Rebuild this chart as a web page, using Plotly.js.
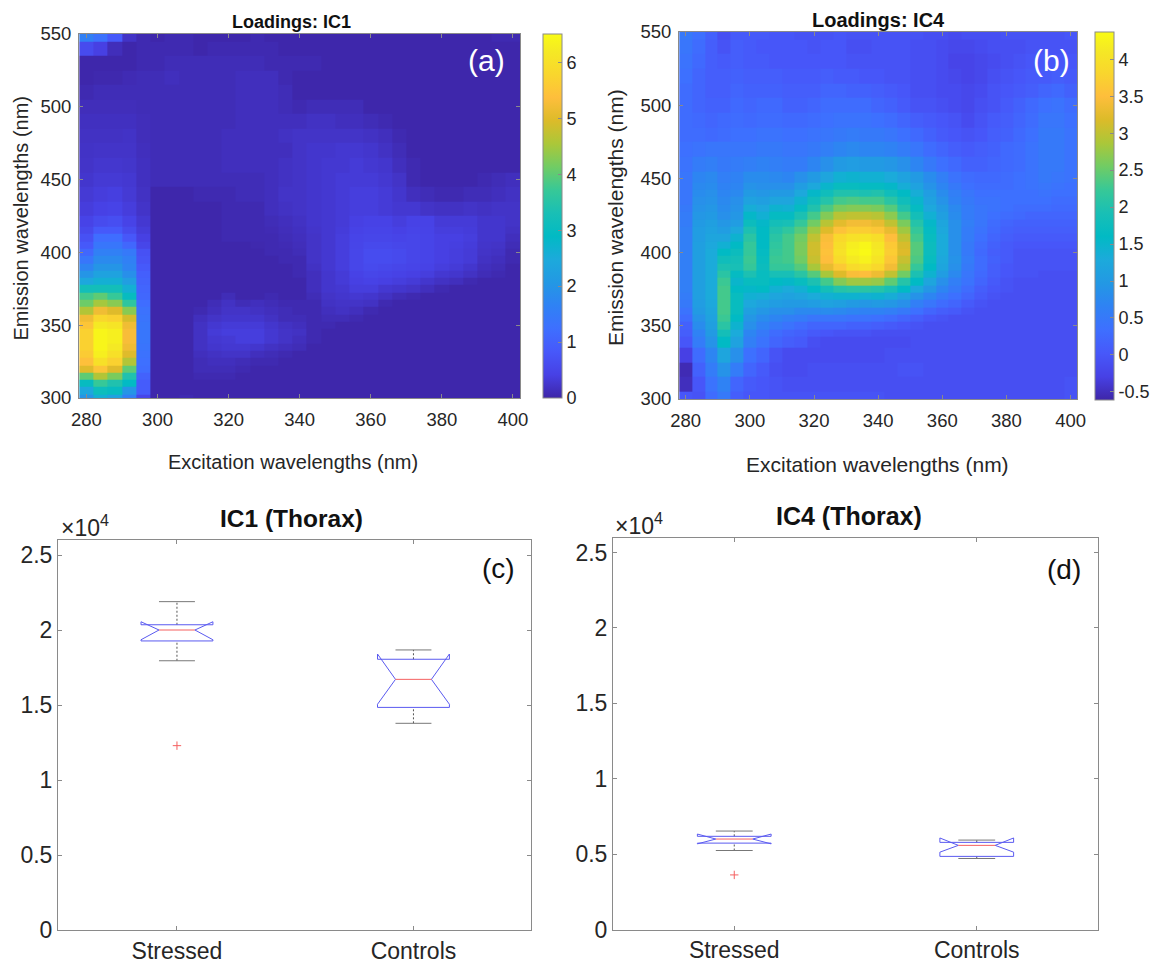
<!DOCTYPE html>
<html><head><meta charset="utf-8">
<script src="https://cdn.plot.ly/plotly-3.0.1.min.js"></script>
<style>html,body{margin:0;padding:0;background:#fff}</style></head>
<body><div id="chart" style="width:1153px;height:960px"></div>
<script>
const excitation=[280,284,288,292,296,300,304,308,312,316,320,324,328,332,336,340,344,348,352,356,360,364,368,372,376,380,384,388,392,396,400];
const emissionIC1=[300,305,310,315,320,325,330,335,340,345,350,355,360,365,370,375,380,385,390,395,400,405,410,415,420,430,440,450,460,470,480,490,500,510,520,530,540,550];
const loadingsIC1=[
[2.0,2.6,2.3,1.6,.5,.02,.02,.06,.02,.02,.02,.02,.02,.02,.02,.02,.02,.02,.02,.02,.02,.02,.02,.02,.02,.02,.02,.02,.02,.02,.02],
[2.4,3.1,3.0,2.0,.9,.02,.02,.02,.02,.02,.02,.02,.02,.02,.02,.02,.02,.02,.02,.02,.02,.02,.02,.02,.02,.02,.02,.02,.02,.02,.02],
[3.0,3.7,3.4,2.9,.9,.02,.02,.02,.02,.02,.02,.02,.02,.02,.02,.02,.02,.02,.02,.02,.02,.02,.02,.02,.02,.02,.02,.02,.02,.02,.02],
[4.0,4.6,4.2,3.4,1.0,.02,.02,.02,.06,.06,.06,.02,.02,.02,.02,.02,.02,.02,.02,.02,.02,.02,.02,.02,.02,.02,.02,.02,.02,.02,.02],
[5.0,5.5,5.0,4.0,1.2,.02,.02,.02,.1,.1,.1,.06,.02,.02,.02,.02,.02,.02,.02,.02,.02,.02,.02,.02,.02,.02,.02,.02,.02,.02,.02],
[5.4,6.0,5.7,4.6,1.25,.02,.02,.02,.1,.14,.14,.1,.06,.06,.02,.02,.02,.02,.02,.02,.02,.02,.02,.02,.02,.02,.02,.02,.02,.02,.02],
[5.6,6.3,6.0,5.0,1.3,.02,.02,.02,.14,.18,.21,.21,.14,.1,.06,.02,.02,.02,.02,.02,.02,.02,.02,.02,.02,.02,.02,.02,.02,.02,.02],
[5.7,6.4,6.2,5.2,1.35,.02,.02,.02,.18,.25,.28,.28,.25,.18,.14,.1,.02,.02,.02,.02,.02,.02,.02,.02,.02,.02,.02,.02,.02,.02,.02],
[5.7,6.4,6.3,5.3,1.4,.02,.02,.02,.18,.28,.3,.36,.36,.28,.21,.14,.06,.02,.02,.02,.02,.02,.02,.02,.02,.02,.02,.02,.02,.02,.02],
[5.7,6.4,6.3,5.3,1.4,.02,.02,.02,.18,.32,.36,.36,.36,.28,.21,.18,.06,.02,.02,.02,.02,.02,.02,.02,.02,.02,.02,.02,.02,.02,.02],
[5.5,6.2,6.1,5.2,1.4,.02,.02,.02,.18,.28,.32,.32,.32,.25,.18,.14,.06,.06,.02,.02,.02,.02,.02,.02,.02,.02,.02,.02,.02,.02,.02],
[5.2,5.8,5.7,4.9,1.35,.02,.02,.02,.14,.21,.25,.25,.25,.18,.1,.1,.06,.1,.1,.06,.02,.02,.02,.02,.02,.02,.02,.02,.02,.02,.02],
[4.6,5.2,5.0,4.3,1.3,.02,.02,.02,.06,.14,.21,.21,.18,.14,.1,.06,.06,.14,.18,.14,.06,.02,.02,.02,.02,.02,.02,.02,.02,.02,.02],
[4.1,4.5,4.3,3.6,1.2,.02,.02,.02,.02,.1,.18,.1,.14,.1,.06,.06,.06,.18,.21,.21,.18,.06,.02,.02,.02,.02,.02,.02,.02,.02,.02],
[3.8,4.0,3.7,3.0,1.1,.02,.02,.02,.02,.02,.1,.02,.02,.06,.02,.02,.1,.21,.25,.28,.25,.18,.1,.06,.02,.02,.02,.02,.02,.02,.02],
[3.2,3.2,3.2,2.6,1.05,.02,.02,.02,.02,.02,.02,.02,.02,.02,.02,.02,.14,.25,.28,.36,.36,.28,.25,.21,.14,.06,.02,.02,.02,.02,.02],
[2.4,2.6,2.6,2.2,1.0,.02,.02,.02,.02,.02,.02,.02,.02,.02,.02,.02,.14,.25,.32,.4,.44,.4,.36,.32,.25,.18,.14,.06,.02,.02,.02],
[2.0,2.3,2.3,1.9,.95,.02,.02,.02,.02,.02,.02,.02,.02,.02,.02,.06,.14,.25,.32,.44,.5,.47,.44,.4,.36,.28,.25,.18,.1,.06,.02],
[1.7,2.0,2.0,1.7,.85,.02,.02,.02,.02,.02,.02,.02,.02,.02,.02,.06,.18,.28,.36,.5,.58,.54,.5,.47,.44,.36,.32,.25,.14,.1,.02],
[1.4,1.8,1.8,1.6,.75,.02,.02,.02,.02,.02,.02,.02,.02,.02,.06,.06,.21,.28,.36,.5,.62,.62,.58,.5,.47,.4,.36,.32,.18,.14,.06],
[1.1,1.6,1.6,1.45,.7,.02,.02,.02,.02,.02,.02,.02,.02,.06,.06,.1,.21,.28,.36,.5,.62,.62,.58,.5,.47,.4,.36,.32,.21,.18,.06],
[.85,1.4,1.4,1.1,.5,.02,.02,.02,.02,.02,.02,.02,.04,.06,.08,.12,.21,.28,.36,.48,.56,.56,.52,.5,.47,.4,.38,.34,.23,.21,.1],
[.7,1.2,1.2,.8,.4,.02,.02,.02,.02,.02,.06,.06,.06,.06,.1,.14,.21,.28,.36,.47,.5,.5,.47,.5,.47,.4,.4,.36,.25,.25,.14],
[.55,.85,.85,.6,.33,.02,.02,.02,.02,.02,.06,.06,.06,.08,.12,.16,.23,.28,.34,.44,.47,.47,.42,.47,.45,.36,.36,.34,.25,.25,.18],
[.45,.6,.65,.45,.28,.02,.02,.02,.02,.02,.06,.06,.06,.1,.14,.18,.25,.28,.32,.4,.44,.44,.36,.44,.44,.32,.32,.32,.25,.25,.21],
[.35,.42,.45,.35,.22,.02,.02,.02,.02,.02,.06,.06,.06,.14,.18,.21,.25,.28,.32,.36,.36,.32,.28,.28,.21,.18,.18,.21,.18,.21,.21],
[.3,.35,.38,.3,.18,.02,.02,.02,.06,.06,.06,.1,.1,.14,.21,.21,.25,.28,.32,.36,.36,.32,.25,.14,.1,.06,.06,.1,.1,.14,.18],
[.25,.3,.3,.28,.16,.1,.1,.1,.1,.1,.1,.1,.1,.14,.18,.21,.25,.28,.32,.32,.32,.28,.21,.06,.02,.02,.02,.02,.06,.1,.14],
[.22,.26,.26,.24,.16,.1,.1,.1,.1,.1,.14,.14,.14,.14,.18,.21,.25,.28,.28,.32,.28,.25,.14,.06,.02,.02,.02,.02,.02,.02,.02],
[.2,.22,.22,.22,.14,.1,.1,.1,.1,.1,.14,.14,.14,.14,.14,.21,.25,.25,.28,.28,.25,.18,.1,.02,.02,.02,.02,.02,.02,.02,.02],
[.18,.18,.18,.2,.12,.1,.1,.1,.1,.1,.14,.14,.14,.14,.18,.21,.21,.21,.21,.21,.18,.14,.06,.02,.02,.02,.02,.02,.02,.02,.02],
[.16,.16,.16,.16,.12,.1,.1,.1,.1,.1,.1,.14,.14,.14,.14,.14,.18,.18,.14,.14,.1,.06,.02,.02,.02,.02,.02,.02,.02,.02,.02],
[.12,.12,.12,.12,.1,.1,.1,.1,.1,.1,.1,.14,.14,.14,.1,.06,.1,.1,.1,.1,.02,.02,.02,.02,.02,.02,.02,.02,.02,.02,.02],
[.06,.1,.1,.1,.1,.1,.1,.1,.1,.1,.1,.14,.14,.14,.1,.02,.02,.02,.02,.02,.02,.02,.02,.02,.02,.02,.02,.02,.02,.02,.02],
[.02,.04,.04,.08,.1,.1,.14,.1,.1,.1,.1,.14,.14,.14,.06,.02,.02,.02,.02,.02,.02,.02,.02,.02,.02,.02,.02,.02,.02,.02,.02],
[.02,.02,.02,.02,.06,.06,.1,.1,.1,.1,.1,.1,.1,.06,.06,.06,.06,.02,.02,.02,.02,.02,.02,.02,.02,.02,.02,.02,.02,.02,.02],
[.6,.4,.12,.02,.06,.06,.06,.06,.02,.06,.06,.06,.06,.06,.02,.02,.02,.02,.02,.02,.02,.02,.02,.02,.02,.02,.02,.02,.02,.02,.02],
[1.6,1.3,.85,.2,.06,.02,.06,.06,.02,.02,.02,.02,.06,.02,.02,.02,.02,.02,.02,.02,.02,.02,.02,.02,.02,.02,.02,.02,.02,.06,.06]
];
const emissionIC4=[300,310,320,330,340,345,350,355,360,365,370,375,380,385,390,395,400,405,410,415,420,425,430,435,440,445,450,460,470,480,490,500,510,520,530,540,550];
const loadingsIC4=[
[0,-.05,.3,.5,.1,0,0,-.05,-.05,-.05,-.05,-.05,-.05,-.05,-.05,-.05,-.1,-.1,-.1,-.1,-.1,-.1,-.1,-.1,-.1,-.1,-.1,-.1,-.1,-.1,-.05],
[-.5,0,.4,.65,.2,.05,0,-.05,-.1,-.1,-.1,-.1,-.1,-.1,-.1,-.1,-.1,-.1,-.1,-.1,-.1,-.1,-.1,-.1,-.1,-.1,-.1,-.1,-.1,-.1,-.05],
[-.55,.15,.55,.9,.55,.2,.05,-.1,-.15,-.15,-.1,-.1,-.1,-.1,-.1,-.1,-.1,-.05,-.05,-.1,-.1,-.1,-.1,-.1,-.1,-.1,-.1,-.1,-.1,-.1,-.1],
[-.3,.3,.7,1.2,.85,.35,.2,-.05,-.15,-.15,-.15,-.15,-.15,-.15,-.15,-.15,-.1,-.1,-.1,-.1,-.1,-.1,-.1,-.1,-.1,-.1,-.1,-.1,-.1,-.1,-.1],
[0,.55,.9,1.6,1.15,.6,.4,.2,.1,.05,-.1,-.15,-.15,-.15,-.15,-.15,-.15,-.15,-.1,-.1,-.1,-.1,-.1,-.1,-.1,-.1,-.1,-.1,-.1,-.1,-.1],
[.1,.65,1.0,1.85,1.3,.7,.5,.3,.2,.15,.05,0,-.05,-.05,-.05,-.1,-.1,-.1,-.1,-.1,-.1,-.1,-.1,-.1,-.1,-.1,-.1,-.1,-.1,-.1,-.1],
[.15,.8,1.1,2.1,1.45,.85,.65,.5,.4,.3,.2,.2,.2,.15,.15,.1,.05,0,-.05,-.1,-.1,-.1,-.1,-.1,-.1,-.1,-.1,-.1,-.1,-.1,-.1],
[.3,.9,1.15,2.25,1.6,.95,.8,.7,.6,.55,.45,.45,.45,.4,.4,.35,.3,.2,.1,0,-.05,-.1,-.1,-.1,-.1,-.1,-.1,-.1,-.1,-.1,-.1],
[.4,1.0,1.2,2.3,1.7,1.1,.95,.85,.85,.75,.75,.8,.75,.7,.65,.65,.6,.5,.35,.2,.1,.05,-.05,-.1,-.1,-.1,-.1,-.1,-.1,-.1,-.1],
[.5,1.05,1.25,2.3,1.7,1.25,1.15,1.05,1.0,1.0,1.05,1.15,1.1,1.0,.95,1.0,.95,.85,.6,.45,.3,.2,.05,-.05,-.1,-.1,-.1,-.1,-.1,-.1,-.1],
[.55,1.1,1.3,2.3,1.7,1.4,1.35,1.2,1.15,1.2,1.3,1.4,1.45,1.45,1.4,1.45,1.35,1.15,.9,.7,.5,.35,.2,.05,-.05,-.1,-.1,-.1,-.1,-.1,-.1],
[.6,1.1,1.3,2.3,1.6,1.55,1.6,1.4,1.3,1.4,1.6,1.85,2.05,2.1,2.1,2.05,1.9,1.6,1.25,.95,.7,.5,.3,.1,0,-.05,-.1,-.1,-.1,-.1,-.1],
[.6,1.1,1.3,2.25,1.5,1.7,1.7,1.6,1.55,1.7,1.95,2.3,2.65,2.8,2.8,2.75,2.45,2.05,1.6,1.2,.85,.6,.4,.2,.05,-.05,-.1,-.1,-.1,-.1,-.1],
[.6,1.1,1.3,2.1,1.65,1.95,1.7,1.9,1.9,2.1,2.4,2.85,3.2,3.45,3.5,3.35,3.0,2.55,1.95,1.45,1.05,.75,.45,.25,.1,0,-.05,-.05,-.1,-.1,-.1],
[.6,1.1,1.3,1.95,1.9,2.2,1.75,2.2,2.2,2.4,2.85,3.3,3.65,3.9,4.0,3.85,3.4,2.9,2.2,1.6,1.2,.85,.5,.3,.1,0,-.05,-.05,-.05,-.05,-.05],
[.6,1.1,1.3,1.8,1.85,2.25,1.7,2.25,2.3,2.55,3.05,3.5,3.9,4.15,4.25,4.05,3.6,3.05,2.35,1.7,1.25,.9,.55,.3,.15,.05,-.05,-.05,-.05,-.05,-.05],
[.6,1.1,1.3,1.6,1.75,2.2,1.65,2.2,2.3,2.6,3.1,3.55,4.0,4.25,4.35,4.15,3.7,3.2,2.4,1.75,1.3,.85,.5,.25,.1,.05,-.05,-.05,-.05,-.05,-.05],
[.6,1.1,1.25,1.4,1.6,2.2,1.6,2.15,2.3,2.6,3.1,3.5,3.95,4.2,4.3,4.1,3.65,3.15,2.4,1.75,1.3,.85,.5,.3,.15,.05,0,0,0,0,0],
[.6,1.05,1.2,1.2,1.45,2.1,1.6,2.1,2.3,2.55,3.0,3.45,3.85,4.0,4.05,3.95,3.5,3.0,2.3,1.7,1.3,.85,.55,.35,.2,.1,.05,.05,.05,.05,.05],
[.6,1.05,1.15,1.05,1.25,1.95,1.6,2.0,2.15,2.4,2.8,3.2,3.55,3.7,3.7,3.6,3.3,2.8,2.2,1.65,1.25,.85,.55,.4,.25,.15,.1,.1,.1,.1,.1],
[.55,1.0,1.1,.95,1.05,1.75,1.55,1.85,1.9,2.2,2.55,2.95,3.25,3.4,3.4,3.3,3.0,2.6,2.05,1.55,1.2,.85,.6,.45,.3,.2,.15,.15,.15,.15,.15],
[.55,.95,1.0,.85,.95,1.55,1.4,1.65,1.65,1.95,2.3,2.65,2.95,3.0,3.0,2.95,2.7,2.3,1.85,1.4,1.1,.8,.55,.45,.35,.3,.25,.2,.2,.2,.2],
[.5,.9,.95,.8,.9,1.35,1.25,1.45,1.4,1.65,2.0,2.35,2.6,2.65,2.65,2.6,2.4,2.0,1.65,1.25,1.0,.75,.55,.45,.4,.35,.3,.3,.3,.25,.25],
[.45,.85,.9,.75,.85,1.15,1.1,1.2,1.2,1.45,1.8,2.05,2.3,2.35,2.3,2.3,2.1,1.8,1.5,1.15,.9,.65,.5,.4,.4,.35,.35,.35,.35,.3,.3],
[.45,.8,.85,.7,.75,1.0,.95,1.0,1.0,1.25,1.55,1.8,2.0,2.0,1.95,2.0,1.8,1.6,1.35,1.05,.8,.6,.45,.35,.35,.35,.35,.35,.4,.35,.35],
[.45,.75,.8,.65,.7,.9,.85,.85,.85,1.05,1.25,1.5,1.7,1.7,1.65,1.65,1.55,1.35,1.15,.9,.7,.5,.35,.3,.3,.3,.35,.4,.45,.4,.35],
[.45,.7,.75,.6,.65,.8,.8,.75,.7,.85,1.0,1.2,1.4,1.45,1.4,1.4,1.3,1.15,1.0,.8,.6,.4,.3,.25,.25,.3,.35,.4,.5,.45,.4],
[.4,.55,.6,.5,.55,.6,.65,.6,.55,.55,.7,.85,1.0,1.05,1.0,1.0,.95,.85,.7,.5,.35,.25,.15,.15,.2,.25,.3,.4,.5,.5,.4],
[.35,.4,.45,.45,.45,.45,.5,.5,.45,.45,.5,.6,.7,.75,.7,.7,.65,.55,.45,.3,.2,.1,.05,.1,.15,.25,.3,.4,.5,.5,.4],
[.3,.3,.25,.3,.35,.35,.4,.4,.35,.35,.4,.45,.5,.55,.5,.5,.45,.35,.25,.15,.05,0,-.05,0,.1,.15,.25,.35,.5,.5,.4],
[.3,.25,.2,.25,.3,.25,.3,.3,.25,.25,.3,.35,.4,.4,.4,.35,.3,.2,.1,.05,0,-.05,-.15,-.05,.05,.1,.2,.3,.45,.45,.35],
[.3,.2,.15,.15,.25,.2,.25,.25,.15,.15,.2,.3,.3,.3,.3,.2,.15,.05,-.05,-.05,-.1,-.15,-.2,-.1,-.05,.05,.15,.25,.35,.4,.3],
[.3,.2,.1,.1,.2,.15,.15,.15,.1,.1,.1,.2,.2,.15,.15,.1,.05,0,-.1,-.1,-.15,-.15,-.2,-.15,-.05,0,.05,.1,.2,.25,.15],
[.35,.2,.1,.1,.15,.1,.1,.1,.05,.05,.05,.1,.05,.05,0,0,-.05,-.05,-.1,-.1,-.15,-.2,-.25,-.2,-.1,-.05,0,.05,.05,.1,.05],
[.4,.25,.1,.05,.1,.05,.05,0,0,0,0,0,0,-.05,-.05,-.05,-.05,-.05,-.1,-.1,-.15,-.25,-.25,-.2,-.15,-.1,-.05,0,0,0,0],
[.45,.3,.1,-.05,.1,.05,0,0,0,0,-.05,0,0,-.1,-.1,-.05,-.05,-.05,-.1,-.1,-.15,-.2,-.2,-.15,-.1,-.1,-.1,-.05,-.05,-.05,-.05],
[.5,.35,.15,-.1,.05,.05,.05,0,0,-.05,-.05,-.05,0,-.05,-.05,-.05,-.05,-.05,-.05,-.1,-.1,-.15,-.1,-.1,-.1,-.05,-.05,-.05,-.05,-.05,0]
];
const groups=["Stressed","Controls"];
// box statistics, one entry per group: [Stressed, Controls]
const ic1Low=[17950,13780], ic1Q1=[19270,14840], ic1NotchLo=[19350,15050], ic1Med=[20000,16710], ic1NotchHi=[20550,18400], ic1Q3=[20350,18050], ic1High=[21890,18670], ic1Out=[12290,null];
const ic4Low=[5240,4710], ic4Q1=[5730,4850], ic4NotchLo=[5680,5130], ic4Med=[6000,5580], ic4NotchHi=[6330,6070], ic4Q3=[6180,5780], ic4High=[6530,5930], ic4Out=[3620,null];

const parula=[[0,'rgb(62,38,168)'],[.0635,'rgb(71,65,229)'],[.127,'rgb(71,88,250)'],[.19,'rgb(62,111,255)'],[.254,'rgb(47,130,244)'],[.317,'rgb(35,152,228)'],[.381,'rgb(28,170,219)'],[.444,'rgb(1,186,196)'],[.508,'rgb(25,191,181)'],[.571,'rgb(55,200,151)'],[.635,'rgb(113,204,100)'],[.698,'rgb(171,199,57)'],[.762,'rgb(220,187,41)'],[.825,'rgb(254,190,60)'],[.889,'rgb(249,214,45)'],[.952,'rgb(245,233,36)'],[1,'rgb(249,251,21)']];
const F='"Liberation Sans",Arial,sans-serif', G='#8a8a8a', T='#262626';
const W=1153,H=960;
const dx=(a,b)=>[a/W,b/W], dy=(t,b)=>[1-b/H,1-t/H];
const baseAxis={ticks:'inside',ticklen:4,tickcolor:G,linecolor:G,linewidth:1,mirror:'allticks',showline:true,showgrid:false,zeroline:false};
function heatAxis(id,px,py){return {
 [ 'xaxis'+id]:Object.assign({},baseAxis,{domain:dx(px[0],px[1]),range:[277.9,402],anchor:'y'+id,tickvals:[280,300,320,340,360,380,400],ticklabelstandoff:5,tickfont:{family:F,size:18.5,color:T}}),
 [ 'yaxis'+id]:Object.assign({},baseAxis,{domain:dy(py[0],py[1]),range:[300,550],anchor:'x'+id,tickvals:[300,350,400,450,500,550],ticklabelstandoff:3,tickfont:{family:F,size:18.5,color:T}})
};}
function boxAxis(id,px,py,xr){return {
 [ 'xaxis'+id]:Object.assign({},baseAxis,{domain:dx(px[0],px[1]),range:xr,anchor:'y'+id,tickvals:[1,2],ticktext:groups,tickfont:{family:F,size:23,color:T}}),
 [ 'yaxis'+id]:Object.assign({},baseAxis,{domain:dy(py[0],py[1]),range:[0,26000],anchor:'x'+id,tickvals:[0,5000,10000,15000,20000,25000],ticktext:['0','0.5','1','1.5','2','2.5'],tickfont:{family:F,size:23,color:T}})
};}
function boxTraces(id,s){
 const t=[]; const hw=.152, cap=.076, nw=.076;
 const xa='x'+id, ya='y'+id;
 groups.forEach((g,i)=>{const c=i+1;
  const line=(x,y,col,extra)=>t.push({type:'scatter',mode:'lines',x,y,xaxis:xa,yaxis:ya,line:Object.assign({color:col,width:1},extra||{}),hoverinfo:'skip',showlegend:false});
  line([c,c],[s.Q3[i],s.High[i]],'#555',{dash:'2px 2px'});
  line([c,c],[s.Low[i],s.Q1[i]],'#555',{dash:'2px 2px'});
  line([c-cap,c+cap],[s.High[i],s.High[i]],'#777');
  line([c-cap,c+cap],[s.Low[i],s.Low[i]],'#777');
  line([c-hw,c+hw,c+hw,c+nw,c+hw,c+hw,c-hw,c-hw,c-nw,c-hw,c-hw],[s.Q1[i],s.Q1[i],s.NotchLo[i],s.Med[i],s.NotchHi[i],s.Q3[i],s.Q3[i],s.NotchHi[i],s.Med[i],s.NotchLo[i],s.Q1[i]],'#5a5af0');
  line([c-nw,c+nw],[s.Med[i],s.Med[i]],'#f56060');
  if(s.Out[i]!==null)t.push({type:'scatter',mode:'markers',x:[c],y:[s.Out[i]],xaxis:xa,yaxis:ya,marker:{symbol:'cross-thin',size:6,line:{color:'#f56060',width:1}},hoverinfo:'skip',showlegend:false});
 });
 return t;
}
const traces=[
 {type:'heatmap',x:excitation,y:emissionIC1,z:loadingsIC1,xaxis:'x',yaxis:'y',colorscale:parula,zmin:0,zmax:6.51,
  colorbar:{x:543/W,xanchor:'left',xpad:0,ypad:0,thickness:19,len:364/H,lenmode:'fraction',y:1-398/H,yanchor:'bottom',tickvals:[0,1,2,3,4,5,6],ticks:'inside',ticklen:4,tickcolor:G,outlinecolor:G,outlinewidth:1,tickfont:{family:F,size:18,color:T}}},
 {type:'heatmap',x:excitation,y:emissionIC4,z:loadingsIC4,xaxis:'x2',yaxis:'y2',colorscale:parula,zmin:-0.61,zmax:4.37,
  colorbar:{x:1095/W,xanchor:'left',xpad:0,ypad:0,thickness:19,len:368/H,lenmode:'fraction',y:1-400/H,yanchor:'bottom',tickvals:[-.5,0,.5,1,1.5,2,2.5,3,3.5,4],ticktext:['-0.5','0','0.5','1','1.5','2','2.5','3','3.5','4'],ticks:'inside',ticklen:4,tickcolor:G,outlinecolor:G,outlinewidth:1,tickfont:{family:F,size:18,color:T}}},
 ...boxTraces('3',{Low:ic1Low,Q1:ic1Q1,NotchLo:ic1NotchLo,Med:ic1Med,NotchHi:ic1NotchHi,Q3:ic1Q3,High:ic1High,Out:ic1Out}),
 ...boxTraces('4',{Low:ic4Low,Q1:ic4Q1,NotchLo:ic4NotchLo,Med:ic4Med,NotchHi:ic4NotchHi,Q3:ic4Q3,High:ic4High,Out:ic4Out})
];
const note=(text,x,y,size,color,bold,angle)=>({text:bold?'<b>'+text+'</b>':text,xref:'paper',yref:'paper',x:x/W,y:1-y/H,xanchor:'center',yanchor:'middle',showarrow:false,textangle:angle||0,font:{family:F,size,color}});
const layout=Object.assign({width:W,height:H,margin:{l:0,r:0,t:0,b:0,autoexpand:false},paper_bgcolor:'#fff',plot_bgcolor:'#fff',showlegend:false,
 annotations:[
  note('Loadings: IC1',291,22,18,'#111',true),note('Loadings: IC4',878,20,20,'#111',true),
  note('(a)',486,60,30,'#fff'),note('(b)',1051,60,30,'#fff'),
  note('IC1 (Thorax)',291,518,24.5,'#111',true),note('IC4 (Thorax)',849,516,25,'#111',true),
  note('(c)',498,568,28,'#111'),note('(d)',1064,569,28,'#111'),
  note('×10<sup>4</sup>',85,526,23,T),note('×10<sup>4</sup>',639,524,23,T),
  note('Excitation wavelengths (nm)',292.5,462,20,T),note('Excitation wavelengths (nm)',877.5,464,21,T),
  note('Emission wavelengths (nm)',21,218.5,20,T,false,-90),note('Emission wavelengths (nm)',616,218,21,T,false,-90)
 ]},
 heatAxis('',[79,520],[34,398]),
 heatAxis('2',[679,1077],[32,399]),
 boxAxis('3',[58,531],[540,930],[0.497,2.497]),
 boxAxis('4',[613,1098],[537.5,929.5],[0.5,2.5]));
Plotly.newPlot('chart',traces,layout,{staticPlot:true,displayModeBar:false});
</script></body></html>
